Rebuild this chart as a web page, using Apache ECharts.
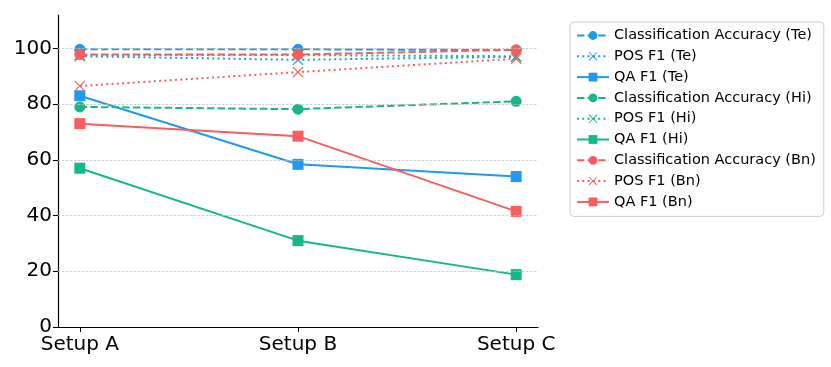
<!DOCTYPE html>
<html><head><meta charset="utf-8">
<script src="https://cdn.jsdelivr.net/npm/echarts@6/dist/echarts.min.js"></script>
<style>html,body{margin:0;padding:0;background:#fff}#c{width:831px;height:367px}</style>
</head><body><div id="c"></div>
<script>
const categories = ['Setup A', 'Setup B', 'Setup C'];
const yTicks = [0, 20, 40, 60, 80, 100];
const teClassAcc = [99.7, 99.7, 99.4];
const tePosF1 = [97.2, 95.9, 97.0];
const teQaF1 = [83.0, 58.4, 54.0];
const hiClassAcc = [79.0, 78.2, 81.0];
const hiPosF1 = [97.6, 97.6, 97.2];
const hiQaF1 = [57.0, 31.0, 18.8];
const bnClassAcc = [97.8, 97.8, 99.5];
const bnPosF1 = [86.5, 91.5, 96.3];
const bnQaF1 = [73.0, 68.5, 41.5];

const BLUE = '#1E9BF0', GREEN = '#14B88A', RED = '#FA5D5D';
const XSYM = 'path://M1.5,0 L10,8.5 L18.5,0 L20,1.5 L11.5,10 L20,18.5 L18.5,20 L10,11.5 L1.5,20 L0,18.5 L8.5,10 L0,1.5 Z';
const DASH = [7.4, 3.2], DOT = [2, 3.3];

function mk(name, data, color, kind) {
  const sym = kind === 'acc' ? 'circle' : kind === 'pos' ? XSYM : 'rect';
  const type = kind === 'acc' ? DASH : kind === 'pos' ? DOT : 'solid';
  return {
    name, type: 'line',
    data: data.map((v, i) => [i, v]),
    symbol: sym, symbolSize: 11,
    showSymbol: true,
    lineStyle: { color, width: 2, type },
    itemStyle: { color },
    emphasis: { disabled: true },
    animation: false,
    z: 3
  };
}

const series = [
  mk('Classification Accuracy (Te)', teClassAcc, BLUE, 'acc'),
  mk('POS F1 (Te)', tePosF1, BLUE, 'pos'),
  mk('QA F1 (Te)', teQaF1, BLUE, 'qa'),
  mk('Classification Accuracy (Hi)', hiClassAcc, GREEN, 'acc'),
  mk('POS F1 (Hi)', hiPosF1, GREEN, 'pos'),
  mk('QA F1 (Hi)', hiQaF1, GREEN, 'qa'),
  mk('Classification Accuracy (Bn)', bnClassAcc, RED, 'acc'),
  mk('POS F1 (Bn)', bnPosF1, RED, 'pos'),
  mk('QA F1 (Bn)', bnQaF1, RED, 'qa')
];

const chart = echarts.init(document.getElementById('c'), null, { renderer: 'canvas' });
chart.setOption({
  animation: false,
  grid: { left: 58, right: 293, top: 15, bottom: 40, containLabel: false },
  xAxis: {
    type: 'value', min: -0.1, max: 2.1,
    axisLine: { show: true, onZero: false, lineStyle: { color: '#000', width: 1.2 } },
    axisTick: { show: true, length: 5, lineStyle: { color: '#000' }, customValues: [0, 1, 2] },
    axisLabel: {
      customValues: [0, 1, 2],
      formatter: v => categories[Math.round(v)],
      color: '#000', fontSize: 20, fontFamily: 'DejaVu Sans', margin: 8
    },
    splitLine: { show: false }
  },
  yAxis: {
    type: 'value', min: 0, max: 112,
    axisLine: { show: true, onZero: false, lineStyle: { color: '#000', width: 1.2 } },
    axisTick: { show: true, length: 5, lineStyle: { color: '#000' }, customValues: yTicks },
    axisLabel: { customValues: yTicks, color: '#000', fontSize: 20, fontFamily: 'DejaVu Sans', margin: 6 },
    splitLine: { show: false }
  },
  series: series.concat([{
    type: 'line', silent: true, data: [], z: 1,
    markLine: {
      silent: true, symbol: 'none', animation: false,
      label: { show: false },
      lineStyle: { color: '#c0c0c0', width: 0.8, type: [2.5, 1.5] },
      data: yTicks.filter(v => v > 0).map(v => ({ yAxis: v }))
    }
  }]),
  legend: {
    show: true, orient: 'vertical', left: 570, top: 22,
    data: series.map(s => s.name),
    itemWidth: 32, itemHeight: 11, itemGap: 5.8,
    padding: [6, 8, 7, 6],
    borderColor: '#cccccc', borderWidth: 1, borderRadius: 4,
    textStyle: { fontSize: 14.5, fontFamily: 'DejaVu Sans', color: '#000' }
  }
});
</script></body></html>
